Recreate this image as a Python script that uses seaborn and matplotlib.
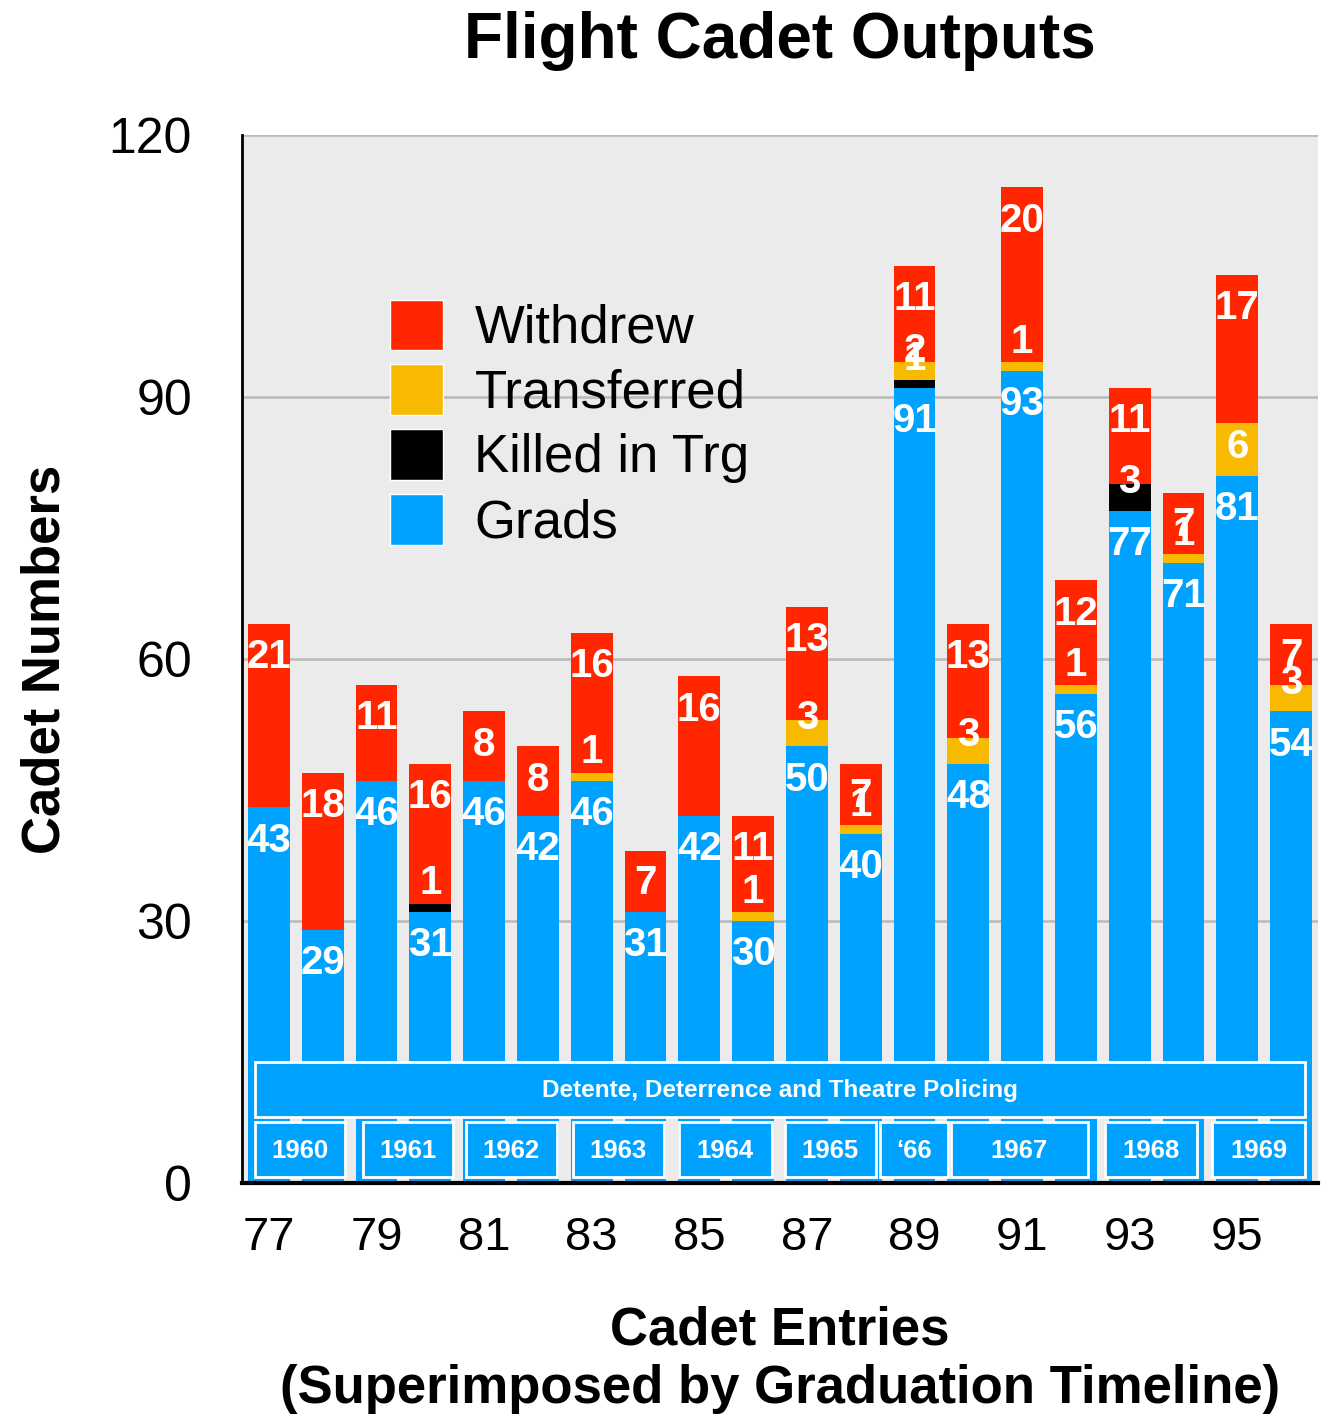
import numpy as np
import pandas as pd
import matplotlib
matplotlib.use('Agg')
import matplotlib.pyplot as plt
from matplotlib.patches import Patch, Rectangle
import seaborn as sns

# values
entries = [str(e) for e in range(77, 97)]
grads = [43, 29, 46, 31, 46, 42, 46, 31, 42, 30, 50, 40, 91, 48, 93, 56, 77, 71, 81, 54]
killed = [0, 0, 0, 1, 0, 0, 0, 0, 0, 0, 0, 0, 1, 0, 0, 0, 3, 0, 0, 0]
transferred = [0, 0, 0, 0, 0, 0, 1, 0, 0, 1, 3, 1, 2, 3, 1, 1, 0, 1, 6, 3]
withdrew = [21, 18, 11, 16, 8, 8, 16, 7, 16, 11, 13, 7, 11, 13, 20, 12, 11, 7, 17, 7]

# graduation timeline overlay (in entry-position units)
era_label = 'Detente, Deterrence and Theatre Policing'
years = ['1960', '1961', '1962', '1963', '1964', '1965', '\u201866', '1967', '1968', '1969']
year_start = [-0.26, 1.75, 3.66, 5.65, 7.62, 9.59, 11.36, 12.68, 15.54, 17.53]
year_end = [1.41, 3.42, 5.35, 7.34, 9.35, 11.28, 12.62, 15.22, 17.25, 19.26]

RED = '#FF2600'
YEL = '#F8BA00'
BLK = '#000000'
BLUE = '#00A2FF'

sns.set_style('white')
plt.rcParams['font.family'] = ['Liberation Sans', 'DejaVu Sans']
plt.rcParams['text.color'] = 'black'
plt.rcParams['xtick.color'] = 'black'
plt.rcParams['ytick.color'] = 'black'
plt.rcParams['axes.labelcolor'] = 'black'

df = pd.DataFrame({'entry': entries, 'grads': grads, 'killed': killed,
                   'transferred': transferred, 'withdrew': withdrew})
df['c_killed'] = df['grads'] + df['killed']
df['c_trans'] = df['c_killed'] + df['transferred']
df['total'] = df['c_trans'] + df['withdrew']

fig = plt.figure(figsize=(13.31, 14.21), dpi=100)
ax = fig.add_axes([242/1331, 1 - 1183/1421, 1076/1331, 1048/1421])
ax.set_facecolor('#EBEBEB')
ax.set_axisbelow(True)
ax.yaxis.grid(True, color='#BDBDBD', lw=2)

bw = 0.78
for col, c in [('total', RED), ('c_trans', YEL), ('c_killed', BLK), ('grads', BLUE)]:
    sns.barplot(data=df, x='entry', y=col, color=c, saturation=1, width=bw,
                errorbar=None, linewidth=0, order=entries, ax=ax)

# segment labels
for i in range(len(entries)):
    segs = [(0, grads[i]), (grads[i], df['c_killed'][i]),
            (df['c_killed'][i], df['c_trans'][i]), (df['c_trans'][i], df['total'][i])]
    for lo, hi in segs:
        h = hi - lo
        if h <= 0:
            continue
        yc = max(hi - 3.8, lo + 3.3)
        ax.text(i, yc, str(int(h)), color='white', fontsize=29, fontweight='bold',
                ha='center', va='center', zorder=5)

# timeline boxes
ax.add_patch(Rectangle((-0.26, 7.56), 19.52, 6.3, facecolor=BLUE, edgecolor='white',
                       lw=2, zorder=6))
ax.text(9.5, 10.6, era_label, color='white', fontsize=17.5, fontweight='bold',
        ha='center', va='center', zorder=7)
for lab, s, e in zip(years, year_start, year_end):
    ax.add_patch(Rectangle((s, 0.69), e - s, 6.29, facecolor=BLUE, edgecolor='white',
                           lw=2, zorder=6))
    ax.text((s + e) / 2, 3.7, lab, color='white', fontsize=18.5, fontweight='bold',
            ha='center', va='center', zorder=7)

ax.set_xlim(-0.5, 19.5)
ax.set_ylim(0, 120)
ax.set_yticks([0, 30, 60, 90, 120])
ax.set_xticks(range(0, 20, 2))
ax.set_xticklabels(entries[::2])
ax.tick_params(axis='y', length=0, pad=36, labelsize=36)
ax.tick_params(axis='x', length=0, pad=24, labelsize=34)
ax.set_xlabel('')
ax.set_ylabel('')
for s in ['top', 'right']:
    ax.spines[s].set_visible(False)
ax.spines['left'].set_color('black')
ax.spines['left'].set_linewidth(2)
ax.spines['bottom'].set_color('black')
ax.spines['bottom'].set_linewidth(3)

handles = [Patch(facecolor=RED), Patch(facecolor=YEL), Patch(facecolor=BLK), Patch(facecolor=BLUE)]
ax.legend(handles, ['Withdrew', 'Transferred', 'Killed in Trg', 'Grads'],
          loc='upper left', bbox_to_anchor=(0.1375, 0.843), frameon=False,
          fontsize=38, handlelength=1.0, handleheight=1.1, handletextpad=0.6,
          labelspacing=0.2, borderpad=0, borderaxespad=0)

fig.text(0.586, 0.971, 'Flight Cadet Outputs', fontsize=46, fontweight='bold',
         ha='center', va='center')
fig.text(0.034, 0.536, 'Cadet Numbers', fontsize=38, fontweight='bold',
         rotation=90, ha='center', va='center')
fig.text(0.586, 0.043, 'Cadet Entries\n(Superimposed by Graduation Timeline)',
         fontsize=38, fontweight='bold', ha='center', va='center',
         multialignment='center', linespacing=1.2)

fig.savefig('out.png', dpi=100)
